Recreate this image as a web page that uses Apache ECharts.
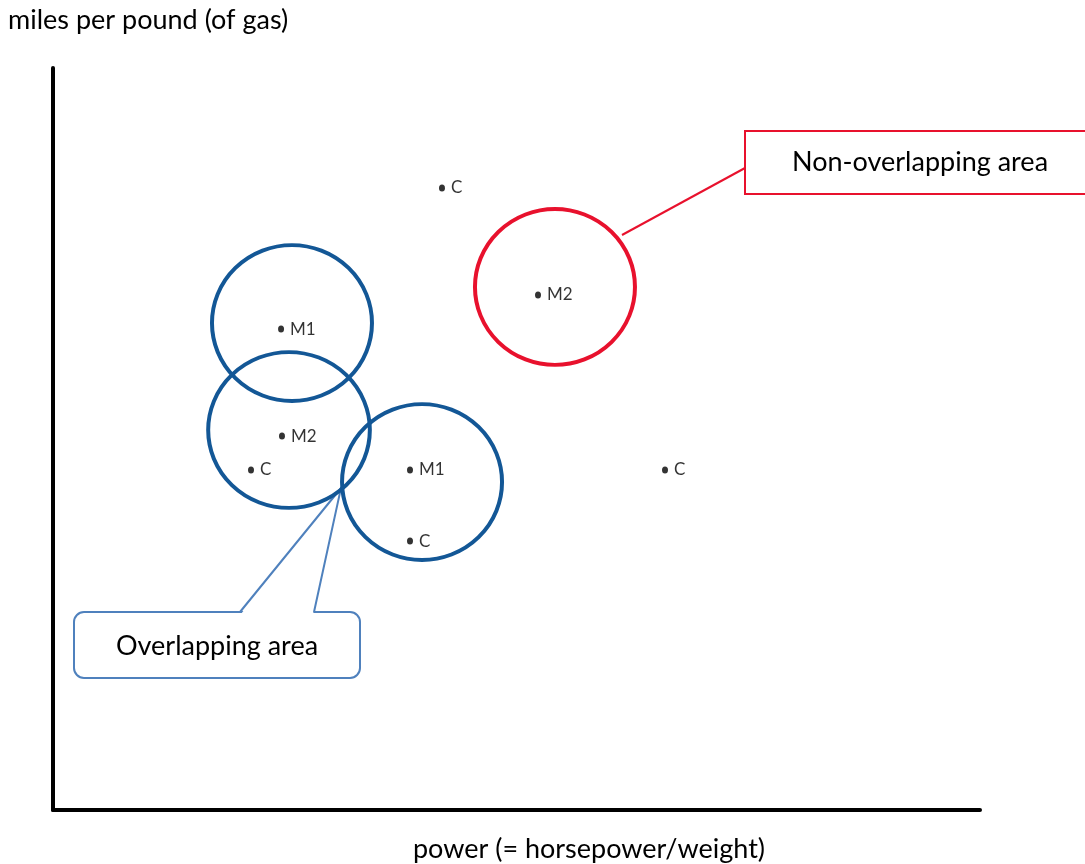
<!DOCTYPE html>
<html>
<head>
<meta charset="utf-8">
<script src="https://cdn.jsdelivr.net/npm/echarts@6/dist/echarts.min.js"></script>
<style>html,body{margin:0;padding:0;background:#fff}#c{width:1085px;height:864px}</style>
</head>
<body>
<div id="c"></div>
<script>
// Points: [x, y, label]
const pointX = [41.96, 52.32, 24.60, 24.70, 21.36, 38.51, 38.51, 66.02];
const pointY = [83.83, 69.41, 64.82, 50.40, 45.82, 45.82, 36.25, 45.82];
const pointLabels = ['C', 'M2', 'M1', 'M2', 'C', 'M1', 'C', 'C'];

// Circles around groups: center x, center y, radius (x units), radius (y units), group
const circleX = [25.78, 25.46, 39.81, 54.15];
const circleY = [65.63, 51.21, 44.20, 70.49];
const circleRX = [8.63, 8.72, 8.63, 8.63];
const circleRY = [10.5, 10.5, 10.5, 10.5];
const circleKind = ['overlap', 'overlap', 'overlap', 'nonoverlap'];

const yTitle = 'miles per pound (of gas)';
const xTitle = 'power (= horsepower/weight)';
const calloutOverlap = 'Overlapping area';
const calloutNon = 'Non-overlapping area';

const FONT = 'Lato, "Open Sans", sans-serif';
const BIG = '27px ' + FONT;
const BLUE = '#135796';
const RED = '#e8112d';
const CALLOUT_BLUE = '#4f81bd';

const points = pointX.map((x, i) => [x, pointY[i], pointLabels[i]]);
const circles = circleX.map((x, i) => [x, circleY[i], circleRX[i], circleRY[i], circleKind[i]]);

const chart = echarts.init(document.getElementById('c'));
chart.setOption({
  animation: false,
  backgroundColor: '#fff',
  grid: { left: 53, right: 105, top: 68, bottom: 54 },
  xAxis: {
    type: 'value', min: 0, max: 100,
    axisLine: { show: true, onZero: false, lineStyle: { color: '#000', width: 4 } },
    axisTick: { show: false }, axisLabel: { show: false }, splitLine: { show: false }
  },
  yAxis: {
    type: 'value', min: 0, max: 100,
    axisLine: { show: true, onZero: false, lineStyle: { color: '#000', width: 4 } },
    axisTick: { show: false }, axisLabel: { show: false }, splitLine: { show: false }
  },
  graphic: [
    { type: 'text', x: 8, y: 20, style: { text: yTitle, font: BIG, fill: '#000', verticalAlign: 'middle' } },
    { type: 'text', x: 589, y: 849, style: { text: xTitle, font: BIG, fill: '#000', align: 'center', verticalAlign: 'middle' } },
    // Non-overlapping callout
    { type: 'line', shape: { x1: 745, y1: 168, x2: 622, y2: 235 }, style: { stroke: RED, lineWidth: 2 } },
    { type: 'rect', shape: { x: 745, y: 131, width: 360, height: 63 }, style: { fill: '#fff', stroke: RED, lineWidth: 2 } },
    { type: 'text', x: 920, y: 162, style: { text: calloutNon, font: BIG, fill: '#000', align: 'center', verticalAlign: 'middle' } },
    // Overlapping callout (rounded box with pointer)
    { type: 'rect', shape: { x: 74, y: 612, width: 286, height: 66, r: 10 }, style: { fill: '#fff', stroke: CALLOUT_BLUE, lineWidth: 2 } },
    { type: 'polygon', shape: { points: [[241, 614], [313, 614], [341, 488]] }, style: { fill: '#fff' } },
    { type: 'polyline', shape: { points: [[240, 612], [341, 488], [314, 612]] }, style: { fill: 'none', stroke: CALLOUT_BLUE, lineWidth: 2 } },
    { type: 'text', x: 217, y: 646, style: { text: calloutOverlap, font: BIG, fill: '#000', align: 'center', verticalAlign: 'middle' } }
  ],
  series: [
    {
      type: 'custom', coordinateSystem: 'cartesian2d', data: circles, z: 3,
      renderItem: function (params, api) {
        const c = api.coord([api.value(0), api.value(1)]);
        const s = api.size([api.value(2), api.value(3)]);
        const kind = circles[params.dataIndex][4];
        return {
          type: 'circle',
          shape: { cx: c[0], cy: c[1], r: s[0] },
          scaleY: s[1] / s[0], originX: c[0], originY: c[1],
          style: { fill: 'none', stroke: kind === 'overlap' ? BLUE : RED, lineWidth: 4 }
        };
      }
    },
    {
      type: 'scatter', data: points, symbol: 'circle', symbolSize: [6, 7], z: 4,
      itemStyle: { color: '#000' },
      label: {
        show: true, position: 'right', distance: 6,
        formatter: p => p.data[2],
        fontFamily: FONT, fontSize: 17, color: '#000'
      }
    }
  ]
});
</script>
</body>
</html>
